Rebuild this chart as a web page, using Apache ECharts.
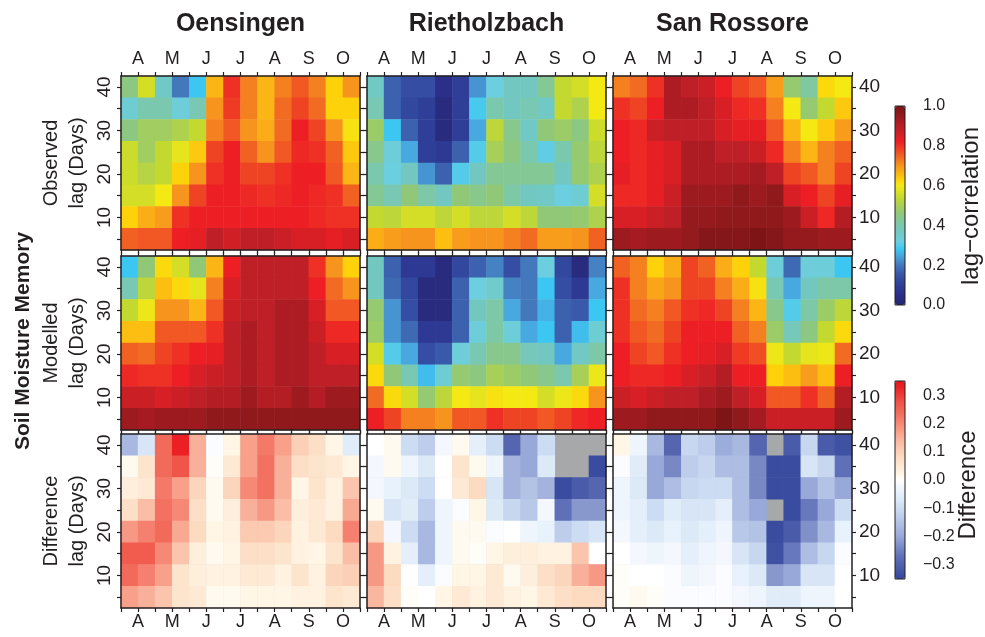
<!DOCTYPE html>
<html><head><meta charset="utf-8">
<script src="https://cdn.jsdelivr.net/npm/echarts@6/dist/echarts.min.js"></script>
<style>html,body{margin:0;padding:0;background:#fff}#chart{width:985px;height:637px}</style>
</head><body><div id="chart"></div>
<script>
// ---------- categories ----------
const months = ['A','M','J','J','A','S','O'];
const halfMonths = ['Apr-1','Apr-2','May-1','May-2','Jun-1','Jun-2','Jul-1','Jul-2','Aug-1','Aug-2','Sep-1','Sep-2','Oct-1','Oct-2'];
const lags = ['5','10','15','20','25','30','35','40'];
const sites = ['Oensingen','Rietholzbach','San Rossore'];
const rowNames = ['Observed','Modelled','Difference'];
const corrTicks = [0,0.2,0.4,0.6,0.8,1.0];
const diffTicks = [-0.3,-0.2,-0.1,0,0.1,0.2,0.3];

// ---------- data (rows: lag 40 at top down to lag 5) ----------
const oensingenObserved = [
 [0.45,0.56,0.36,0.20,0.28,0.66,0.80,0.72,0.66,0.72,0.76,0.72,0.63,0.70],
 [0.34,0.40,0.40,0.33,0.39,0.70,0.79,0.72,0.66,0.74,0.78,0.74,0.63,0.63],
 [0.45,0.49,0.49,0.51,0.54,0.72,0.76,0.70,0.67,0.74,0.82,0.78,0.70,0.61],
 [0.55,0.49,0.54,0.58,0.64,0.78,0.82,0.75,0.70,0.76,0.81,0.80,0.75,0.64],
 [0.55,0.52,0.54,0.63,0.70,0.80,0.82,0.78,0.78,0.80,0.82,0.82,0.76,0.66],
 [0.56,0.56,0.60,0.70,0.78,0.82,0.82,0.81,0.80,0.81,0.82,0.81,0.80,0.75],
 [0.63,0.67,0.69,0.80,0.82,0.82,0.82,0.82,0.82,0.82,0.82,0.81,0.80,0.80],
 [0.75,0.76,0.76,0.82,0.83,0.89,0.86,0.89,0.89,0.87,0.85,0.85,0.83,0.85]
];
const rietholzbachObserved = [
 [0.36,0.17,0.14,0.14,0.05,0.10,0.23,0.32,0.37,0.37,0.43,0.54,0.56,0.60],
 [0.39,0.17,0.12,0.10,0.03,0.10,0.29,0.40,0.37,0.39,0.36,0.54,0.51,0.60],
 [0.48,0.28,0.17,0.10,0.03,0.10,0.25,0.53,0.44,0.36,0.46,0.48,0.45,0.55],
 [0.44,0.33,0.25,0.10,0.08,0.17,0.30,0.50,0.45,0.40,0.31,0.40,0.47,0.53],
 [0.40,0.32,0.37,0.23,0.17,0.30,0.37,0.43,0.43,0.43,0.43,0.37,0.47,0.51],
 [0.43,0.39,0.46,0.41,0.37,0.46,0.44,0.46,0.41,0.37,0.36,0.32,0.34,0.56],
 [0.54,0.53,0.56,0.56,0.53,0.56,0.53,0.53,0.56,0.53,0.46,0.46,0.47,0.51],
 [0.67,0.69,0.70,0.70,0.65,0.69,0.70,0.70,0.72,0.74,0.69,0.69,0.70,0.75]
];
const sanRossoreObserved = [
 [0.72,0.74,0.80,0.92,0.89,0.87,0.82,0.78,0.76,0.69,0.47,0.42,0.62,0.60],
 [0.80,0.78,0.82,0.92,0.92,0.89,0.85,0.81,0.80,0.72,0.60,0.47,0.54,0.64],
 [0.82,0.81,0.87,0.89,0.89,0.89,0.85,0.83,0.83,0.76,0.66,0.60,0.64,0.69],
 [0.82,0.81,0.83,0.85,0.92,0.92,0.89,0.89,0.87,0.81,0.72,0.66,0.72,0.75],
 [0.83,0.81,0.83,0.85,0.92,0.92,0.92,0.92,0.93,0.89,0.78,0.76,0.72,0.78],
 [0.81,0.81,0.83,0.87,0.94,0.94,0.94,0.96,0.94,0.96,0.85,0.82,0.78,0.83],
 [0.85,0.85,0.87,0.89,0.95,0.95,0.96,0.96,0.96,0.96,0.94,0.87,0.81,0.91],
 [0.94,0.93,0.94,0.94,0.95,0.98,0.98,0.98,0.99,0.98,0.95,0.95,0.94,0.94]
];
const oensingenModelled = [
 [0.28,0.46,0.62,0.56,0.46,0.66,0.82,0.89,0.89,0.89,0.89,0.80,0.70,0.63],
 [0.39,0.53,0.65,0.62,0.58,0.72,0.85,0.89,0.89,0.89,0.89,0.82,0.74,0.70],
 [0.54,0.59,0.70,0.70,0.66,0.76,0.87,0.89,0.89,0.92,0.92,0.85,0.76,0.76],
 [0.65,0.65,0.76,0.76,0.76,0.80,0.89,0.92,0.89,0.92,0.92,0.87,0.81,0.81],
 [0.75,0.74,0.78,0.80,0.82,0.83,0.89,0.92,0.89,0.92,0.92,0.89,0.85,0.85],
 [0.81,0.80,0.80,0.82,0.85,0.87,0.89,0.92,0.89,0.92,0.92,0.89,0.89,0.89],
 [0.87,0.87,0.85,0.87,0.89,0.91,0.91,0.94,0.91,0.91,0.94,0.91,0.94,0.94],
 [0.94,0.93,0.94,0.94,0.94,0.96,0.96,0.96,0.96,0.96,0.96,0.96,0.96,0.96]
];
const rietholzbachModelled = [
 [0.37,0.17,0.08,0.08,0.03,0.12,0.17,0.21,0.14,0.20,0.32,0.12,0.03,0.21],
 [0.37,0.18,0.12,0.03,0.03,0.17,0.32,0.35,0.21,0.20,0.28,0.14,0.08,0.25],
 [0.47,0.23,0.14,0.03,0.03,0.17,0.37,0.41,0.25,0.20,0.26,0.17,0.16,0.28],
 [0.48,0.23,0.18,0.08,0.08,0.17,0.33,0.41,0.33,0.25,0.28,0.17,0.27,0.34],
 [0.56,0.30,0.25,0.14,0.16,0.33,0.39,0.44,0.44,0.38,0.37,0.25,0.36,0.41],
 [0.62,0.46,0.39,0.27,0.34,0.47,0.45,0.50,0.48,0.46,0.44,0.40,0.50,0.59],
 [0.74,0.62,0.56,0.47,0.53,0.60,0.58,0.61,0.60,0.60,0.56,0.59,0.62,0.70],
 [0.82,0.78,0.72,0.72,0.70,0.76,0.76,0.80,0.78,0.78,0.76,0.78,0.81,0.82]
];
const sanRossoreModelled = [
 [0.75,0.72,0.63,0.67,0.78,0.75,0.67,0.63,0.54,0.33,0.18,0.33,0.33,0.28],
 [0.80,0.72,0.68,0.70,0.78,0.78,0.72,0.67,0.61,0.39,0.25,0.37,0.41,0.41],
 [0.80,0.74,0.72,0.76,0.80,0.81,0.78,0.72,0.66,0.44,0.30,0.41,0.48,0.53],
 [0.80,0.76,0.74,0.78,0.82,0.82,0.82,0.75,0.72,0.48,0.38,0.45,0.54,0.62],
 [0.82,0.78,0.76,0.80,0.82,0.83,0.85,0.79,0.77,0.59,0.54,0.58,0.59,0.74],
 [0.82,0.81,0.81,0.82,0.85,0.87,0.91,0.82,0.82,0.63,0.65,0.69,0.65,0.82],
 [0.87,0.85,0.87,0.89,0.89,0.92,0.94,0.89,0.85,0.76,0.76,0.80,0.75,0.91],
 [0.94,0.94,0.96,0.96,0.96,0.96,0.99,0.96,0.93,0.87,0.87,0.87,0.87,0.94]
];
const oensingenDifference = [
 [-0.17,-0.08,0.24,0.33,0.15,-0.01,0.02,0.17,0.22,0.17,0.10,0.07,0.02,-0.06],
 [0.01,0.06,0.24,0.27,0.15,0.005,0.05,0.17,0.23,0.15,0.07,0.06,0.05,0.02],
 [0.04,0.05,0.22,0.17,0.09,0.01,0.09,0.20,0.23,0.15,0.02,0.06,0.03,0.12],
 [0.07,0.13,0.23,0.20,0.07,0.01,0.04,0.15,0.18,0.13,0.04,0.05,0.03,0.16],
 [0.18,0.21,0.24,0.16,0.08,0.02,0.03,0.11,0.11,0.09,0.03,0.05,0.08,0.21],
 [0.26,0.26,0.20,0.12,0.04,0.01,0.02,0.07,0.07,0.06,0.03,0.02,0.06,0.13],
 [0.24,0.21,0.17,0.06,0.04,0.03,0.03,0.05,0.05,0.03,0.06,0.03,0.09,0.10],
 [0.17,0.15,0.12,0.06,0.05,0.01,0.01,0.02,0.02,0.02,0.03,0.03,0.06,0.05]
];
const rietholzbachDifference = [
 [0.00,0.01,-0.10,-0.13,-0.02,0.01,-0.05,-0.10,-0.29,-0.20,-0.10,null,null,null],
 [-0.02,0.01,-0.03,-0.07,0.00,0.06,0.01,-0.03,-0.18,-0.20,-0.07,null,null,-0.34],
 [-0.02,-0.04,-0.07,-0.10,0.00,0.05,0.08,-0.08,-0.18,-0.15,-0.18,-0.34,-0.31,-0.29],
 [0.01,-0.08,-0.06,-0.13,-0.03,-0.01,0.02,-0.07,-0.11,-0.14,-0.02,-0.27,-0.22,-0.22],
 [0.09,-0.02,-0.10,-0.17,-0.03,0.01,0.01,-0.01,0.00,-0.03,-0.04,-0.13,-0.10,-0.08],
 [0.18,0.03,-0.05,-0.17,-0.03,0.01,0.005,0.02,0.04,0.04,0.03,0.03,0.12,0.00],
 [0.18,0.08,0.00,-0.05,-0.01,0.02,0.02,0.05,0.01,0.04,0.07,0.09,0.15,0.18],
 [0.14,0.07,0.005,0.00,0.02,0.05,0.03,0.05,0.03,0.02,0.05,0.07,0.08,0.08]
];
const sanRossoreDifference = [
 [0.02,-0.03,-0.17,-0.29,-0.11,-0.13,-0.19,-0.17,-0.29,null,-0.31,-0.11,-0.31,-0.33],
 [-0.01,-0.06,-0.20,-0.24,-0.13,-0.11,-0.16,-0.16,-0.24,-0.34,-0.34,-0.08,-0.11,-0.27],
 [-0.03,-0.07,-0.20,-0.16,-0.11,-0.10,-0.10,-0.16,-0.24,-0.34,-0.34,-0.20,-0.15,-0.20],
 [-0.03,-0.05,-0.10,-0.06,-0.08,-0.08,-0.05,-0.16,-0.20,null,-0.34,-0.26,-0.20,-0.10],
 [-0.02,-0.05,-0.07,-0.04,-0.07,-0.05,-0.03,-0.14,-0.15,-0.34,-0.31,-0.23,-0.17,-0.04],
 [0.00,-0.02,-0.03,-0.02,-0.05,-0.03,-0.02,-0.08,-0.11,-0.33,-0.26,-0.16,-0.11,-0.01],
 [0.005,0.00,0.00,-0.01,-0.03,-0.02,-0.01,-0.04,-0.07,-0.22,-0.20,-0.08,-0.08,0.00],
 [0.005,0.01,0.005,-0.01,-0.01,-0.01,-0.01,-0.02,-0.03,-0.06,-0.06,-0.03,-0.03,0.00]
];

// ---------- styling ----------
const FONT = '"Liberation Sans", Arial, Helvetica, sans-serif';
const INK = '#231f20';
const corrStops = [[0,'#25266e'],[0.05,'#2b2f8a'],[0.1,'#2f3f98'],[0.15,'#3652a6'],[0.2,'#4478bc'],[0.25,'#48a8e0'],[0.28,'#3cc7f2'],[0.32,'#6ccfe0'],[0.37,'#72c8c0'],[0.42,'#80c8a0'],[0.46,'#90c878'],[0.5,'#a8cf58'],[0.54,'#c4d930'],[0.6,'#f5e914'],[0.63,'#fdd20a'],[0.66,'#fbb615'],[0.7,'#f7941d'],[0.74,'#f26b22'],[0.78,'#ef4423'],[0.82,'#ed1f24'],[0.86,'#d11f26'],[0.89,'#bf1f26'],[0.92,'#ad1c22'],[0.95,'#951a1e'],[1.0,'#7a1315']];
const diffStops = [[-0.35,'#34479c'],[-0.3,'#5060ac'],[-0.27,'#6070b8'],[-0.23,'#8090c8'],[-0.2,'#98a8d8'],[-0.17,'#a8b8e0'],[-0.14,'#b8c8e8'],[-0.1,'#ccdcf2'],[-0.07,'#dceaf8'],[-0.04,'#e8f2fc'],[-0.02,'#f4f8fe'],[0,'#ffffff'],[0.01,'#fffaf0'],[0.02,'#fff6e6'],[0.04,'#feeedc'],[0.06,'#fde4cc'],[0.09,'#fcd6bc'],[0.12,'#fbc4ac'],[0.15,'#f9b09a'],[0.17,'#f8a08a'],[0.21,'#f58070'],[0.24,'#f26a5a'],[0.28,'#f04e44'],[0.33,'#ec2024'],[0.35,'#e41a1f']];
function hexToRgb(h){return [parseInt(h.slice(1,3),16),parseInt(h.slice(3,5),16),parseInt(h.slice(5,7),16)];}
function buildScale(stops,min,max,n){
  const out=[];
  for(let i=0;i<n;i++){
    const v=min+(max-min)*i/(n-1);
    let k=0; while(k<stops.length-2 && v>stops[k+1][0]) k++;
    const a=hexToRgb(stops[k][1]), b=hexToRgb(stops[k+1][1]);
    const t=Math.max(0,Math.min(1,(v-stops[k][0])/(stops[k+1][0]-stops[k][0])));
    out.push('rgb('+a.map((x,j)=>Math.round(x+(b[j]-x)*t)).join(',')+')');
  }
  return out;
}

const panelData = [
  oensingenObserved, rietholzbachObserved, sanRossoreObserved,
  oensingenModelled, rietholzbachModelled, sanRossoreModelled,
  oensingenDifference, rietholzbachDifference, sanRossoreDifference
];
const colLeft = [121, 367, 613];
const rowTop = [76, 256, 434];
const PW = 239, PH = 174;

const grids = [], xAxes = [], yAxes = [], series = [];
const lineStyle = {color: INK, width: 1.5};
panelData.forEach((rows, p) => {
  const r = Math.floor(p/3), c = p%3;
  grids.push({left: colLeft[c], top: rowTop[r], width: PW, height: PH, outerBoundsMode: 'none',
    show: r === 2, backgroundColor: '#a7a8aa', borderWidth: 0});
  const xi = xAxes.length;
  ['bottom','top'].forEach(pos => xAxes.push({type:'category', gridIndex:p, position:pos, data:halfMonths, boundaryGap:true, z:10,
    axisLine:{show:true, lineStyle}, axisTick:{show:true, length:4, interval:0, lineStyle:{color:INK,width:1.2}},
    axisLabel:{show:false}, splitLine:{show:false}}));
  if (r === 0 || r === 2) {
    xAxes.push({type:'category', gridIndex:p, position: r===0?'top':'bottom', data:months, z:10,
      axisLine:{show:false}, axisTick:{show:false}, splitLine:{show:false},
      axisLabel:{show:true, interval:0, fontSize:18, fontFamily:FONT, color:INK, margin: r===0?8:5}});
  }
  const yi = yAxes.length;
  ['left','right'].forEach(pos => {
    const showLab = (pos==='left' && c===0) || (pos==='right' && c===2);
    yAxes.push({type:'category', gridIndex:p, position:pos, data:lags, boundaryGap:true, z:10,
      axisLine:{show:true, lineStyle}, axisTick:{show:true, alignWithLabel:true, length:4, interval:0, lineStyle:{color:INK,width:1.2}},
      axisLabel:{show:showLab, interval:(i,v)=>Number(v)%10===0, rotate: pos==='left'?90:0, fontSize:19, fontFamily:FONT, color:INK, margin: pos==='left'?7:7},
      splitLine:{show:false}});
  });
  const data = [];
  rows.forEach((row, ri) => row.forEach((v, ci) => data.push([ci, lags.length-1-ri, v===null?'-':v])));
  series.push({type:'heatmap', name: sites[c]+' '+rowNames[r], xAxisIndex:xi, yAxisIndex:yi, data,
    emphasis:{disabled:true}, progressive:0, animation:false});
});

// colorbar axes grids
const cbGrids = [{left:895, top:106, width:10, height:199}, {left:895, top:381, width:10, height:198}];
cbGrids.forEach((g, k) => {
  const gi = grids.length;
  grids.push(Object.assign({outerBoundsMode:'none', show:true, borderColor:INK, borderWidth:1, backgroundColor:'transparent', z:10}, g));
  xAxes.push({type:'value', gridIndex:gi, show:false, min:0, max:1});
  if (k === 0) {
    yAxes.push({type:'value', gridIndex:gi, position:'right', min:corrTicks[0], max:corrTicks[corrTicks.length-1], interval:0.2,
      axisLine:{show:false}, axisTick:{show:false}, splitLine:{show:false},
      axisLabel:{margin:18, fontSize:16, fontFamily:FONT, color:INK, formatter:v=>v.toFixed(1)}});
  } else {
    yAxes.push({type:'value', gridIndex:gi, position:'right', min:-0.35, max:0.35, interval:0.05,
      axisLine:{show:false}, axisTick:{show:false}, splitLine:{show:false},
      axisLabel:{margin:18, fontSize:16, fontFamily:FONT, color:INK, formatter:v=>{
        const k2=Math.round(v*100); if (k2%10!==0) return '';
        if (!diffTicks.some(t=>Math.round(t*100)===k2)) return '';
        const s=(Math.abs(k2)/100).toFixed(1); return k2<0?'\u2212'+s:s; }}});
  }
});

const visualMap = [
  {type:'continuous', min:0, max:1, seriesIndex:[0,1,2,3,4,5], inRange:{color:buildScale(corrStops,0,1,101)},
   show:true, calculable:false, hoverLink:false, left:895, top:106, itemWidth:10, itemHeight:199, padding:0, orient:'vertical'},
  {type:'continuous', min:-0.35, max:0.35, seriesIndex:[6,7,8], inRange:{color:buildScale(diffStops,-0.35,0.35,141)},
   show:true, calculable:false, hoverLink:false, left:895, top:381, itemWidth:10, itemHeight:198, padding:0, orient:'vertical'}
];

function txt(text, x, y, size, bold, rot) {
  return {type:'text', x, y, rotation: rot?Math.PI/2:0, silent:true,
    style:{text, fill:INK, font:(bold?'bold ':'')+size+'px '+FONT, align:'center', verticalAlign:'middle'}};
}
const graphic = [];
sites.forEach((s, c) => graphic.push(txt(s, colLeft[c]+PW/2, 24, 25, true, false)));
rowNames.forEach((n, r) => {
  const cy = rowTop[r] + PH/2;
  graphic.push(txt(n, 51, cy, 20, false, true));
  graphic.push(txt('lag (Days)', 77, cy, 20, false, true));
});
graphic.push(txt('Soil Moisture Memory', 23, 341, 21, true, true));
graphic.push(txt('lag\u2212correlation', 971, 206, 24, false, true));
graphic.push(txt('Difference', 968, 485, 24, false, true));

const chart = echarts.init(document.getElementById('chart'), null, {renderer:'canvas'});
chart.setOption({animation:false, backgroundColor:'#ffffff', grid:grids, xAxis:xAxes, yAxis:yAxes,
  visualMap, series, graphic});
</script></body></html>
